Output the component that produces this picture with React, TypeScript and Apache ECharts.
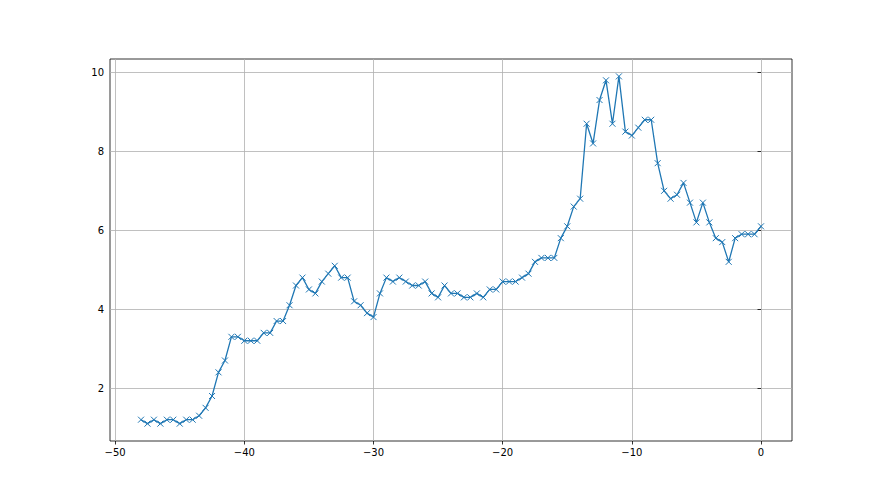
import React, { useEffect, useRef } from "react";
import * as echarts from "echarts";

const xValues: number[] = [];
for (let i = 0; i <= 96; i++) xValues.push(-48 + i * 0.5);

const yValues: number[] = [
  1.2, 1.1, 1.2, 1.1, 1.2, 1.2, 1.1, 1.2, 1.2, 1.3,
  1.5, 1.8, 2.4, 2.7, 3.3, 3.3, 3.2, 3.2, 3.2, 3.4,
  3.4, 3.7, 3.7, 4.1, 4.6, 4.8, 4.5, 4.4, 4.7, 4.9,
  5.1, 4.8, 4.8, 4.2, 4.1, 3.9, 3.8, 4.4, 4.8, 4.7,
  4.8, 4.7, 4.6, 4.6, 4.7, 4.4, 4.3, 4.6, 4.4, 4.4,
  4.3, 4.3, 4.4, 4.3, 4.5, 4.5, 4.7, 4.7, 4.7, 4.8,
  4.9, 5.2, 5.3, 5.3, 5.3, 5.8, 6.1, 6.6, 6.8, 8.7,
  8.2, 9.3, 9.8, 8.7, 9.9, 8.5, 8.4, 8.6, 8.8, 8.8,
  7.7, 7.0, 6.8, 6.9, 7.2, 6.7, 6.2, 6.7, 6.2, 5.8,
  5.7, 5.2, 5.8, 5.9, 5.9, 5.9, 6.1,
];

const xTicks = [-50, -40, -30, -20, -10, 0];
const yTicks = [2, 4, 6, 8, 10];

const fmt = (v: number) => String(v).replace("-", "\u2212");

export default function App() {
  const ref = useRef<HTMLDivElement>(null);
  useEffect(() => {
    if (!ref.current) return;
    const chart = echarts.init(ref.current, null, { renderer: "svg" });
    const labelStyle = {
      color: "#000",
      fontSize: 10,
      fontFamily: "DejaVu Sans",
    };
    chart.setOption({
      animation: false,
      backgroundColor: "#fff",
      grid: {
        left: 110,
        right: 88,
        top: 59,
        bottom: 54,
        show: true,
        borderColor: "#000",
        borderWidth: 0.8,
        backgroundColor: "transparent",
      },
      xAxis: {
        type: "value",
        min: -50.4,
        max: 2.4,
        axisLine: { show: false },
        axisTick: {
          show: true,
          inside: false,
          length: 3.5,
          lineStyle: { color: "#000", width: 0.8 },
          customValues: xTicks,
        },
        axisLabel: {
          ...labelStyle,
          margin: 6,
          customValues: xTicks,
          formatter: (v: number) => fmt(v),
        },
        splitLine: { show: true, lineStyle: { color: "#b0b0b0", width: 0.8 } },
      },
      yAxis: {
        type: "value",
        min: 0.66,
        max: 10.34,
        axisLine: { show: false },
        axisTick: {
          show: true,
          inside: false,
          length: 3.5,
          lineStyle: { color: "#000", width: 0.8 },
          customValues: yTicks,
        },
        axisLabel: {
          ...labelStyle,
          margin: 6,
          customValues: yTicks,
          formatter: (v: number) => fmt(v),
        },
        splitLine: { show: true, lineStyle: { color: "#b0b0b0", width: 0.8 } },
      },
      series: [
        {
          type: "line",
          data: xValues.map((x, i) => [x, yValues[i]]),
          lineStyle: { color: "#1f77b4", width: 1.3 },
          symbol: "path://M0,0L10,10M10,0L0,10",
          symbolSize: 6,
          showAllSymbol: true,
          itemStyle: { color: "#1f77b4", borderColor: "#1f77b4", borderWidth: 1 },
          emphasis: { disabled: true },
        },
      ],
    });
    return () => chart.dispose();
  }, []);
  return (
    <div
      ref={ref}
      style={{ position: "fixed", left: 0, top: 0, width: 880, height: 495 }}
    />
  );
}
